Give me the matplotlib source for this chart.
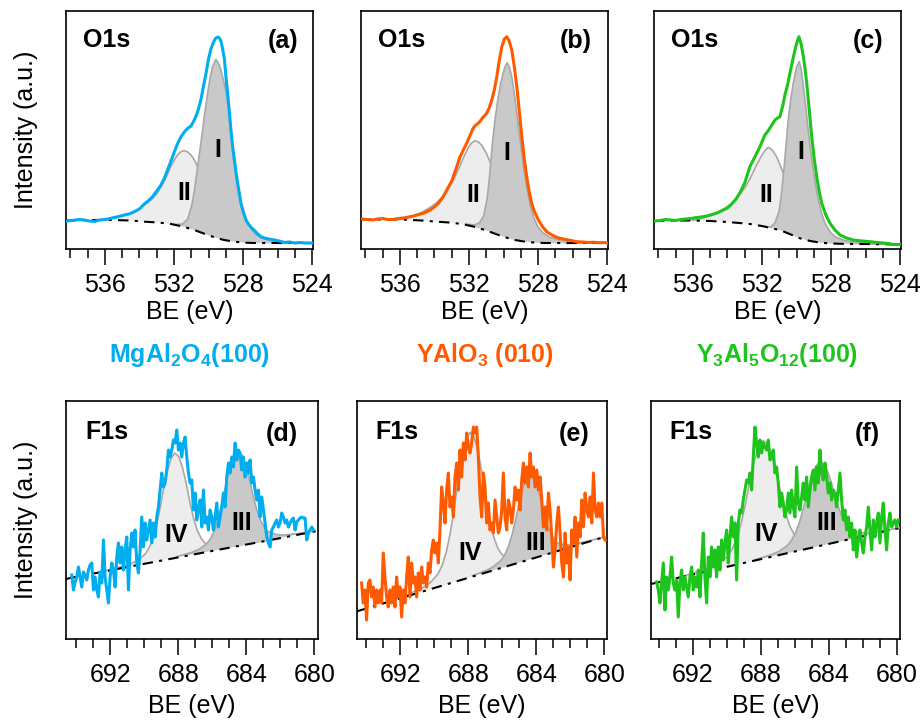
import numpy as np
import matplotlib
matplotlib.use("Agg")
import matplotlib.pyplot as plt
from matplotlib.ticker import MultipleLocator

plt.rcParams['font.family'] = ['Liberation Sans', 'DejaVu Sans']
plt.rcParams['mathtext.fontset'] = 'custom'
plt.rcParams['mathtext.rm'] = 'Liberation Sans'
plt.rcParams['mathtext.bf'] = 'Liberation Sans:bold'
plt.rcParams['mathtext.default'] = 'bf'

BLUE, ORANGE, GREEN = '#00AEEF', '#FF5A00', '#1CC41C'
samples = ['MgAl$_2$O$_4$(100)', 'YAlO$_3$ (010)', 'Y$_3$Al$_5$O$_{12}$(100)']
panel_tags = ['(a)', '(b)', '(c)', '(d)', '(e)', '(f)']

# ---------------- O1s, MgAl2O4 (a) ----------------
a_E = [538.2, 537.9, 537.5, 537.2, 536.9, 536.6, 536.3, 536.0, 535.7, 535.46,
       535.2, 534.88, 534.6, 534.3, 534.0, 533.72, 533.5, 533.24, 533.0, 532.75,
       532.55, 532.37, 532.17, 531.98, 531.8, 531.59, 531.4, 531.2, 531.01, 530.85,
       530.72, 530.58, 530.43, 530.3, 530.14, 530.0, 529.86, 529.73, 529.6, 529.47,
       529.37, 529.28, 529.18, 529.08, 528.99, 528.89, 528.79, 528.7, 528.6, 528.5,
       528.41, 528.31, 528.21, 528.12, 527.98, 527.83, 527.73, 527.55, 527.34, 527.15,
       526.96, 526.77, 526.5, 526.19, 525.9, 525.6, 525.3, 525.0, 524.7, 524.4, 524.0]
a_I = [28, 28.5, 29.5, 29, 28, 27.5, 29, 29.5, 30.5, 31.5,
       32.5, 34, 35, 37.3, 40, 45, 48, 52.3, 58, 64,
       71, 79, 88, 97, 105, 112.3, 117, 120.7, 123, 128,
       133, 140, 150, 162, 176, 190, 200, 206, 210.5, 212,
       211, 208, 200, 190, 172.3, 155, 137, 119, 102, 89,
       77, 65.7, 55, 45.7, 37, 29, 26, 22, 18.5, 15,
       12.3, 11, 10, 9, 8, 6.5, 7, 6, 6.5, 6, 6]
a_bg_E = [538.25, 537.0, 535.65, 534.5, 533.72, 532.9, 532.17, 531.5, 530.82, 530.2,
          529.66, 529.1, 528.5, 527.9, 527.34, 526.5, 525.5, 523.95]
a_bg_I = [28.5, 29, 29, 28.5, 27.3, 26.5, 25, 22.5, 19, 15,
          11.7, 9, 7.3, 6.3, 6, 6, 6, 6]
a_II_E = [536.0, 535.2, 534.6, 534.1, 533.7, 533.33, 533.0, 532.75, 532.45, 532.17,
          531.95, 531.75, 531.55, 531.4, 531.2, 531.01, 530.8, 530.63, 530.4, 530.24,
          529.95, 529.66, 529.35, 529.08, 528.8, 528.5, 528.1, 527.73, 527.3, 526.96,
          526.5, 526.0, 525.0]
a_II_I = [29, 32, 35, 39, 44, 49, 55, 62, 72, 83,
          90, 95, 97.8, 98.3, 97, 94, 88.5, 82.3, 73, 66,
          55, 45.7, 36.5, 29, 22.5, 17.3, 13, 10.5, 8.5, 7.3,
          6.5, 6.2, 6]
a_I_E = [532.0, 531.5, 531.2, 530.95, 530.8, 530.63, 530.48, 530.34, 530.2, 530.05,
         529.9, 529.76, 529.57, 529.4, 529.28, 529.15, 528.99, 528.85, 528.7, 528.55,
         528.41, 528.25, 528.12, 527.95, 527.73, 527.5, 527.25, 526.9, 526.57, 526.0,
         525.5, 525.0, 524.0]
a_I_I = [24.5, 25, 30, 45, 60, 82.3, 101, 119, 138, 155.7,
         172, 182.3, 189.7, 185, 179, 170, 158, 140, 115, 92,
         73, 56, 45, 35, 26, 19, 14.5, 11, 9, 7,
         6.3, 6, 6]

# ---------------- O1s, YAlO3 (b) ----------------
b_E = [538.2, 537.9, 537.6, 537.3, 537.0, 536.7, 536.4, 536.1, 535.8, 535.5,
       535.2, 534.9, 534.6, 534.3, 534.0, 533.75, 533.5, 533.25, 533.0, 532.75,
       532.52, 532.3, 532.13, 531.9, 531.75, 531.6, 531.45, 531.3, 531.17, 531.0,
       530.85, 530.68, 530.53, 530.39, 530.25, 530.1, 529.95, 529.81, 529.67, 529.52,
       529.38, 529.23, 529.08, 528.94, 528.8, 528.66, 528.52, 528.37, 528.2, 527.98,
       527.75, 527.5, 527.2, 526.95, 526.72, 526.4, 526.1, 525.76, 525.4, 525.1,
       524.8, 524.5, 524.2, 524.0]
b_I = [30, 29.5, 29, 30, 30.5, 29.5, 29.5, 30.5, 31, 32,
       33, 34.5, 36, 38.5, 42, 46, 52, 60, 68, 80,
       92, 100, 105.7, 115, 121, 124, 126, 129, 132, 135,
       140, 149, 159, 172, 188, 202, 210, 212.3, 208, 199,
       183, 162.3, 137, 112.3, 91, 72.3, 58, 45.7, 37, 29,
       22.5, 17.3, 14, 12, 10.7, 9.5, 8.5, 7.3, 7, 6.5,
       6.8, 6.3, 6.5, 6]
b_bg_E = [538.25, 537.0, 535.9, 534.75, 534.0, 533.15, 532.4, 531.75, 531.07, 530.45,
          529.9, 529.35, 528.75, 528.15, 527.6, 526.5, 523.95]
b_bg_I = [29.5, 29.5, 29.5, 28.5, 27.5, 26.5, 25, 22.5, 19, 15,
          11.7, 9, 7.3, 6.3, 6, 6, 6]
b_II_E = [536.0, 535.4, 534.8, 534.3, 533.9, 533.55, 533.2, 532.9, 532.6, 532.3,
          532.05, 531.85, 531.65, 531.45, 531.25, 531.0, 530.8, 530.55, 530.3, 530.0,
          529.7, 529.4, 529.1, 528.8, 528.5, 528.1, 527.7, 527.2, 526.7, 526.2, 525.0]
b_II_I = [29.5, 32, 36, 41, 46, 52, 60, 69, 80, 92,
          101, 106, 108.3, 107, 103.5, 96, 88, 78, 67, 55,
          44, 35, 28, 23, 18, 13, 10, 8, 6.8, 6, 6]
b_I_E = [532.2, 531.7, 531.4, 531.15, 530.95, 530.82, 530.65, 530.49, 530.35, 530.2,
         530.05, 529.91, 529.78, 529.65, 529.52, 529.38, 529.23, 529.08, 528.94, 528.8,
         528.66, 528.45, 528.27, 528.0, 527.69, 527.3, 526.72, 526.0, 525.2, 524.0]
b_I_I = [25, 24, 26, 33, 50, 70, 105, 129, 147, 162.3,
         174, 182.3, 186.3, 181, 172.3, 156, 135.7, 115, 95.7, 78,
         62.3, 44, 32.3, 22, 15.7, 11.5, 9, 7, 6.3, 6]

# ---------------- O1s, Y3Al5O12 (c) ----------------
c_E = [538.2, 537.9, 537.6, 537.3, 537.0, 536.7, 536.4, 536.1, 535.8, 535.5,
       535.2, 534.9, 534.6, 534.3, 534.0, 533.75, 533.5, 533.25, 533.0, 532.85,
       532.7, 532.5, 532.31, 532.15, 532.0, 531.83, 531.65, 531.5, 531.25, 531.1,
       530.96, 530.8, 530.67, 530.52, 530.38, 530.23, 530.09, 529.97, 529.86, 529.73,
       529.6, 529.48, 529.37, 529.25, 529.12, 528.98, 528.83, 528.68, 528.54, 528.3,
       528.06, 527.75, 527.48, 527.1, 526.71, 526.2, 525.74, 525.3, 525.0, 524.7,
       524.39, 524.0]
c_I = [28, 28.5, 29.5, 29, 28.5, 29.5, 30, 30.5, 31.5, 32,
       33, 34.5, 36, 38.5, 41, 45, 50, 57, 66, 74,
       82.3, 89, 95.7, 101, 107, 114, 118, 122, 129, 131,
       132.3, 143, 154, 164, 175.7, 188, 199, 207, 212.3, 205,
       192.3, 177, 159, 137, 112.3, 91, 72.3, 57, 45.7, 34,
       25.7, 18.5, 14, 11, 9, 8, 7.3, 6.5, 6, 5.5,
       4.5, 4.5]
c_bg_E = [538.25, 537.0, 536.0, 535.0, 534.0, 533.3, 532.7, 532.0, 531.4, 530.96,
          530.4, 529.8, 529.2, 528.6, 528.0, 527.0, 526.0, 523.95]
c_bg_I = [28, 28.5, 28.5, 28, 27, 26, 25, 23, 20.5, 19,
          15, 10.7, 8, 6.3, 5.5, 5, 5, 4.5]
c_II_E = [536.0, 535.3, 534.7, 534.2, 533.8, 533.4, 533.0, 532.7, 532.4, 532.1,
          531.85, 531.63, 531.4, 531.15, 530.95, 530.77, 530.5, 530.19, 529.9, 529.6,
          529.3, 529.03, 528.6, 528.25, 527.7, 527.0, 526.0, 525.0]
c_II_I = [28.5, 31.5, 35, 40, 45, 52, 61, 70, 81, 91,
          98, 101.7, 99, 92.3, 84, 75.7, 62, 49, 38, 29,
          21.5, 15.7, 11, 9, 7, 6, 5, 5]
c_I_E = [532.0, 531.5, 531.25, 531.0, 530.85, 530.7, 530.48, 530.33, 530.19, 529.99,
         529.84, 529.72, 529.6, 529.46, 529.32, 529.18, 529.03, 528.88, 528.74, 528.55,
         528.35, 528.05, 527.77, 527.3, 526.9, 526.2, 525.5, 524.5]
c_I_I = [23, 22, 26, 38, 58, 85, 129, 150, 165.7, 182.3,
         187.3, 179, 162.3, 142, 119, 98, 79, 63, 49, 36,
         25.7, 17, 12.3, 9, 7.3, 6, 5.5, 5]

# ---------------- F1s, MgAl2O4 (d) ----------------
d_E_first, d_E_last = 694.26, 680.05          # spectrum energy range
d_I = [64, 49, 57, 62, 72, 62, 52, 67, 64, 59,
       69, 74, 76, 49, 62, 49, 42, 67, 56, 99,
       62, 49, 36, 62, 76, 69, 52, 82, 96, 76,
       92, 69, 89, 102, 49, 89, 106, 92, 109, 76,
       66, 89, 122, 92, 116, 99, 109, 119, 96, 116,
       102, 122, 132, 149, 166, 152, 156, 169, 189, 182,
       189, 199, 196, 209, 189, 196, 182, 196, 202, 182,
       166, 156, 159, 129, 146, 119, 132, 139, 112, 149,
       116, 122, 109, 129, 122, 109, 122, 136, 112, 122,
       132, 146, 132, 162, 176, 166, 182, 172, 196, 179,
       189, 186, 169, 182, 162, 176, 166, 179, 156, 162,
       149, 139, 149, 122, 142, 129, 116, 102, 96, 92,
       109, 112, 116, 119, 112, 116, 126, 122, 116, 119,
       112, 116, 119, 121, 109, 117, 119, 121, 122, 121,
       121, 99, 106, 109, 112, 109]
d_bg_E = [694.6, 694.26, 690.05, 685.93, 682.79, 680.05, 679.78]
d_bg_I = [60, 61.3, 75, 88.3, 98.3, 107.3, 108.2]
d_IV_E = [692.6, 691.71, 690.83, 690.39, 689.95, 689.73, 689.51, 689.29, 689.07, 688.85,
          688.63, 688.41, 688.19, 687.97, 687.75, 687.53, 687.31, 687.09, 686.87, 686.65,
          686.43, 685.99, 685.55, 684.67, 683.5, 682.0]
d_IV_I = [66.7, 70.6, 75.0, 78.5, 84.8, 90.7, 99.8, 113.1, 130.6, 151.3,
          168.8, 181.1, 186.0, 182.5, 171.7, 155.6, 136.3, 120.2, 108.3, 100.6,
          96.1, 92.7, 92.1, 93.3, 96.7, 101.0]
d_III_E = [688.1, 687.2, 686.75, 686.3, 686.075, 685.85, 685.625, 685.4, 685.175, 684.95,
           684.725, 684.5, 684.275, 684.05, 683.825, 683.6, 683.375, 683.15, 682.925, 682.7,
           682.25, 681.8, 680.9, 680.05]
d_III_I = [82.3, 86.6, 89.9, 95.7, 101.1, 109.4, 121.6, 137.5, 156.3, 172.3,
           183.4, 187.9, 184.8, 175.2, 160.7, 143.3, 128.8, 118.2, 111.3, 107.3,
           104.5, 104.0, 105.5, 107.8]

# ---------------- F1s, YAlO3 (e) ----------------
e_E_first, e_E_last = 694.28, 679.96
e_I = [56, 36, 49, 19, 56, 59, 42, 52, 32, 49,
       36, 49, 36, 86, 62, 42, 32, 49, 36, 52,
       32, 62, 42, 52, 22, 49, 36, 62, 82, 42,
       76, 56, 62, 42, 66, 49, 72, 56, 62, 52,
       76, 66, 89, 99, 86, 96, 76, 109, 152, 136,
       116, 149, 166, 132, 142, 122, 162, 176, 149, 189,
       162, 196, 179, 206, 192, 186, 196, 212, 206, 212,
       182, 142, 122, 166, 152, 116, 136, 109, 116, 106,
       139, 122, 106, 112, 129, 166, 122, 109, 139, 132,
       116, 129, 152, 139, 149, 129, 159, 176, 156, 172,
       152, 186, 162, 172, 152, 169, 149, 162, 139, 112,
       132, 109, 146, 129, 102, 72, 89, 116, 132, 106,
       76, 62, 106, 76, 92, 59, 109, 96, 122, 82,
       116, 102, 139, 112, 146, 129, 122, 142, 116, 166,
       129, 122, 136, 122, 136, 102, 99]
e_bg_E = [694.55, 692.0, 690.0, 688.0, 686.0, 684.0, 682.0, 679.8]
e_bg_I = [27.7, 40.8, 51, 61.2, 71.4, 81.6, 91.8, 103]
e_IV_E = [692.5, 691.66, 690.72, 690.25, 689.78, 689.545, 689.31, 689.075, 688.84, 688.605,
          688.37, 688.135, 687.9, 687.665, 687.43, 687.195, 686.96, 686.725, 686.49, 686.255,
          686.02, 685.55, 685.08, 684.14, 683.0, 682.0]
e_IV_I = [38.2, 44.0, 50.9, 56.2, 65.2, 73.6, 86.4, 105.0, 129.4, 158.2,
          182.6, 199.7, 206.7, 202.1, 187.4, 165.4, 139.0, 117.0, 100.8, 90.4,
          84.4, 80.2, 79.7, 82.4, 87.4, 91.8]
e_III_E = [687.76, 686.92, 686.5, 686.08, 685.87, 685.66, 685.45, 685.24, 685.03, 684.82,
           684.61, 684.4, 684.19, 683.98, 683.77, 683.56, 683.35, 683.14, 682.93, 682.72,
           682.3, 681.88, 681.04, 679.8]
e_III_I = [63.3, 68.8, 72.6, 78.7, 83.9, 91.8, 103.1, 117.7, 135.0, 149.7,
           160.0, 164.5, 162.2, 154.0, 141.4, 126.3, 113.8, 104.6, 98.9, 95.8,
           94.0, 94.5, 97.6, 103.0]

# ---------------- F1s, Y3Al5O12 (f) ----------------
f_E_first, f_E_last = 694.14, 679.92
f_I = [57, 49, 36, 56, 76, 29, 62, 49, 62, 82,
       56, 49, 59, 22, 56, 69, 49, 62, 52, 42,
       62, 72, 49, 62, 52, 69, 42, 76, 106, 62,
       36, 82, 62, 92, 72, 89, 62, 92, 69, 99,
       79, 96, 109, 76, 102, 122, 102, 116, 59, 116,
       129, 126, 139, 149, 159, 156, 166, 149, 182, 212,
       196, 182, 199, 186, 196, 192, 189, 199, 179, 182,
       189, 166, 172, 156, 132, 146, 136, 122, 129, 146,
       126, 149, 132, 122, 172, 136, 129, 142, 156, 139,
       162, 132, 149, 162, 169, 149, 172, 156, 189, 166,
       159, 176, 162, 146, 156, 139, 149, 146, 132, 149,
       166, 139, 119, 129, 109, 122, 102, 116, 89, 109,
       82, 99, 109, 96, 86, 102, 112, 132, 109, 89,
       119, 102, 116, 126, 96, 122, 136, 109, 89, 116,
       126, 112, 116, 119, 112, 119]
f_bg_E = [694.5, 694.14, 690.0, 686.0, 682.0, 679.82]
f_bg_I = [54.9, 56.3, 72.2, 87.5, 102.8, 111.1]
f_IV_E = [693.0, 692.06, 691.01, 690.49, 689.96, 689.70, 689.44, 689.17, 688.91, 688.65,
          688.39, 688.12, 687.86, 687.60, 687.34, 687.07, 686.81, 686.55, 686.29, 686.02,
          685.76, 685.24, 684.71, 683.66, 682.5]
f_IV_I = [60.7, 65.5, 71.3, 75.6, 82.9, 89.8, 100.3, 115.4, 135.3, 158.7,
          178.6, 192.7, 198.4, 194.7, 182.6, 164.8, 143.4, 125.5, 112.4, 103.9,
          99.0, 95.7, 95.4, 97.6, 101.5]
f_III_E = [688.37, 687.41, 686.93, 686.45, 686.21, 685.97, 685.73, 685.49, 685.25, 685.01,
           684.77, 684.53, 684.29, 684.05, 683.81, 683.57, 683.33, 683.09, 682.85, 682.61,
           682.13, 681.65, 680.69, 679.82]
f_III_I = [79.2, 84.2, 87.7, 93.4, 98.5, 106.1, 117.1, 131.5, 148.4, 162.7,
           172.8, 177.1, 174.7, 166.4, 153.9, 138.8, 126.3, 117.1, 111.3, 108.1,
           106.1, 106.2, 108.6, 111.1]

d_E = np.linspace(d_E_first, d_E_last, len(d_I))
e_E = np.linspace(e_E_first, e_E_last, len(e_I))
f_E = np.linspace(f_E_first, f_E_last, len(f_I))

# ---------------- figure ----------------
W, H = 924, 725
fig = plt.figure(figsize=(W / 100, H / 100), dpi=100)


def axes_px(left, top, w, h):
    return fig.add_axes([left / W, 1 - (top + h) / H, w / W, h / H])


def fill_comp(ax, cE, cI, bE, bI, face, z):
    lo, hi = min(cE), max(cE)
    inside = sorted((e, i) for e, i in zip(bE, bI) if lo < e < hi)
    xs = list(cE) + [e for e, _ in inside]
    ys = list(cI) + [i for _, i in inside]
    ax.fill(xs, ys, facecolor=face, edgecolor='none', zorder=z)
    ax.plot(cE, cI, color='#A8A8A8', lw=1.2, zorder=z + 0.5)


def draw(ax, E, I, bgE, bgI, hiE, hiI, loE, loI, color, xlim, lpad):
    fill_comp(ax, hiE, hiI, bgE, bgI, '#EDEDED', 1)
    fill_comp(ax, loE, loI, bgE, bgI, '#C9C9C9', 3)
    ax.plot(bgE, bgI, color='black', lw=1.5, ls=(0, (5, 3, 1.5, 3)), zorder=5)
    ax.plot(E, I, color=color, lw=2.2, zorder=6, solid_joinstyle='round')
    ax.set_xlim(*xlim)
    ax.set_ylim(0, 238)
    ax.set_yticks([])
    ax.xaxis.set_major_locator(MultipleLocator(4))
    ax.xaxis.set_minor_locator(MultipleLocator(1))
    ax.tick_params(axis='x', which='major', direction='out', length=11.5, width=1.1,
                   labelsize=18, pad=6)
    ax.tick_params(axis='x', which='minor', direction='out', length=6.5, width=1.1)
    for s in ax.spines.values():
        s.set_linewidth(1.2)
    ax.set_xlabel('BE (eV)', fontsize=18, labelpad=lpad)


top_boxes = [(66, 11, 247, 238), (361, 11, 247, 238), (654, 11, 247, 238)]
bot_boxes = [(66, 401, 252, 238), (357, 401, 250, 238), (651, 401, 249, 238)]
top_xlim = (538.25, 523.95)
bot_xlims = [(694.6, 679.78), (694.55, 679.85), (694.47, 679.82)]
colors = [BLUE, ORANGE, GREEN]

top_data = [(a_E, a_I, a_bg_E, a_bg_I, a_II_E, a_II_I, a_I_E, a_I_I),
            (b_E, b_I, b_bg_E, b_bg_I, b_II_E, b_II_I, b_I_E, b_I_I),
            (c_E, c_I, c_bg_E, c_bg_I, c_II_E, c_II_I, c_I_E, c_I_I)]
bot_data = [(d_E, d_I, d_bg_E, d_bg_I, d_IV_E, d_IV_I, d_III_E, d_III_I),
            (e_E, e_I, e_bg_E, e_bg_I, e_IV_E, e_IV_I, e_III_E, e_III_I),
            (f_E, f_I, f_bg_E, f_bg_I, f_IV_E, f_IV_I, f_III_E, f_III_I)]

# label positions (E, intensity) for component names
lab_I = [((529.47, 99), (531.4, 56)), ((529.81, 96), (531.75, 54)), ((529.76, 97), (531.73, 54))]
lab_F = [((688.13, 104), (684.25, 116)), ((687.9, 86), (684.02, 96)), ((687.7, 105), (684.12, 116))]
tag_x_top = [0.94, 0.934, 0.928]
tag_x_bot = [0.922, 0.932, 0.92]

for k in range(3):
    ax = axes_px(*top_boxes[k])
    draw(ax, *top_data[k], colors[k], top_xlim, 2)
    (x1, y1), (x2, y2) = lab_I[k]
    ax.text(x1, y1, 'I', fontsize=18, fontweight='bold', ha='center', va='center', zorder=7)
    ax.text(x2, y2, 'II', fontsize=18, fontweight='bold', ha='center', va='center', zorder=7)
    ax.text(0.07, 0.88, 'O1s', transform=ax.transAxes, fontsize=18, fontweight='bold',
            ha='left', va='center')
    ax.text(tag_x_top[k], 0.875, panel_tags[k], transform=ax.transAxes, fontsize=18,
            fontweight='bold', ha='right', va='center')

    ax = axes_px(*bot_boxes[k])
    draw(ax, *bot_data[k], colors[k], bot_xlims[k], 4.5)
    (x1, y1), (x2, y2) = lab_F[k]
    ax.text(x1, y1, 'IV', fontsize=18, fontweight='bold', ha='center', va='center', zorder=7)
    ax.text(x2, y2, 'III', fontsize=18, fontweight='bold', ha='center', va='center', zorder=7)
    ax.text(0.075, 0.868, 'F1s', transform=ax.transAxes, fontsize=18, fontweight='bold',
            ha='left', va='center')
    ax.text(tag_x_bot[k], 0.862, panel_tags[k + 3], transform=ax.transAxes, fontsize=18,
            fontweight='bold', ha='right', va='center')

for ycen in (130, 520):
    fig.text(26.5 / W, 1 - ycen / H, 'Intensity (a.u.)', rotation=90, fontsize=18,
             ha='center', va='center')

for k, xc in enumerate((189.5, 484.5, 777.5)):
    fig.text(xc / W, 1 - 355 / H, samples[k], color=colors[k], fontsize=18,
             fontweight='bold', ha='center', va='center')

fig.savefig('out.png', dpi=100)
